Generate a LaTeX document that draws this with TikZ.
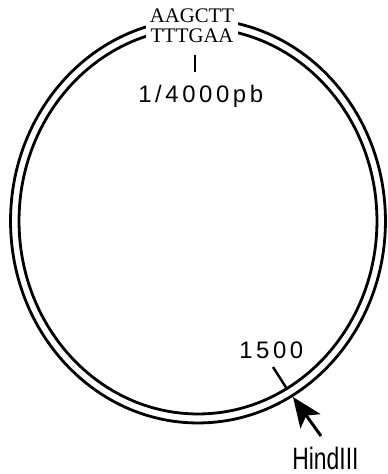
\documentclass[tikz,border=0pt]{standalone}
\usepackage{fontspec}
\setmainfont{Liberation Serif}
\setsansfont{Liberation Sans}
\usetikzlibrary{arrows.meta}

\begin{document}
\begin{tikzpicture}[x=0.02cm,y=-0.02cm,
  strand/.style={line width=1.6pt},
  sitetick/.style={line width=1.4pt},
  numlabel/.style={inner sep=0pt,
    font=\sffamily\fontsize{13.6}{16}\selectfont\addfontfeature{LetterSpace=15}}]
  \useasboundingbox (0,0) rectangle (388,474);
  % the two strands of the plasmid
  \draw[strand] (198,221) ellipse [x radius=3.75cm, y radius=4.04cm];
  \draw[strand] (198,221) ellipse [x radius=3.58cm, y radius=3.86cm];
  % site at the origin
  \node[fill=white, inner xsep=2pt, inner ysep=2pt, align=center,
    font=\fontsize{11.8}{11.4}\selectfont] (site) at (192,26) {AAGCTT\\TTTGAA};
  \coordinate (origtop) at (195,55);
  \coordinate (origbot) at (195,72);
  \draw[sitetick] (origtop) -- (origbot);
  \node[numlabel, anchor=base west] (origin) at (138,102) {1/4000pb};
  % HindIII at 1500
  \node[numlabel, anchor=base west] (pos) at (239,358) {1500};
  \coordinate (postop) at (273,367);
  \coordinate (posbot) at (287,389);
  \draw[sitetick] (postop) -- (posbot);
  \node[inner sep=0pt, anchor=base west, font=\sffamily\fontsize{17.6}{20}\selectfont]
    (enzyme) at (292,469) {\scalebox{0.74}[1]{HindIII}};
  \coordinate (hindtail) at (321,436);
  \coordinate (hindsite) at (293,397);
  \draw[line width=1.7pt, -{Stealth[length=17pt, width=14pt, inset=4pt]}] (hindtail) -- (hindsite);
\end{tikzpicture}
\end{document}
